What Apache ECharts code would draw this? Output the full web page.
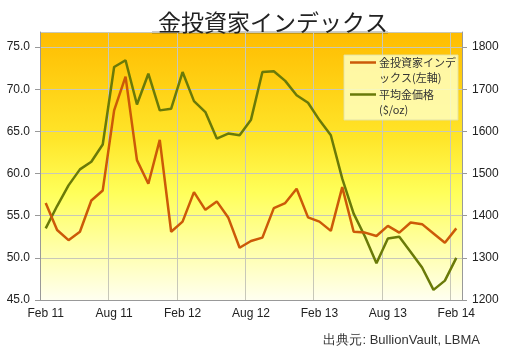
<!DOCTYPE html>
<html><head><meta charset="utf-8">
<script src="https://cdn.jsdelivr.net/npm/echarts@6/dist/echarts.min.js"></script>
<style>html,body{margin:0;padding:0;background:#fff}#c{width:507px;height:356px}</style>
</head><body><div id="c"></div>
<script>
const months = ['Feb 11','Mar 11','Apr 11','May 11','Jun 11','Jul 11','Aug 11','Sep 11','Oct 11','Nov 11','Dec 11','Jan 12',
  'Feb 12','Mar 12','Apr 12','May 12','Jun 12','Jul 12','Aug 12','Sep 12','Oct 12','Nov 12','Dec 12','Jan 13',
  'Feb 13','Mar 13','Apr 13','May 13','Jun 13','Jul 13','Aug 13','Sep 13','Oct 13','Nov 13','Dec 13','Jan 14','Feb 14'];
const investorIndex = [56.5,53.3,52.1,53.1,56.8,58.0,67.5,71.5,61.6,58.8,64.0,53.1,
  54.3,57.8,55.7,56.7,54.8,51.2,52.0,52.4,55.9,56.5,58.2,54.8,
  54.3,53.2,58.4,53.1,53.0,52.6,53.8,53.0,54.2,54.0,52.9,51.8,53.5];
const goldPrice = [1370,1423,1472,1510,1528,1569,1753,1769,1664,1737,1650,1654,
  1741,1672,1646,1583,1595,1591,1628,1741,1743,1720,1686,1668,
  1627,1591,1488,1405,1350,1287,1346,1350,1314,1277,1224,1246,1300];
const seriesNames = ['金投資家インデックス(左軸)','平均金価格($/oz)'];
const legendLabels = {'金投資家インデックス(左軸)':'金投資家インデ\nックス(左軸)','平均金価格($/oz)':'平均金価格\n($/oz)'};
const titleText = '金投資家インデックス';
const sourceText = '出典元: BullionVault, LBMA';

const chart = echarts.init(document.getElementById('c'));
const font = 'Liberation Sans, Arial, sans-serif';
const iconPath = 'path://M0 0H0.1V0.1H0Z M0 6.3H26V8.8H0Z M0 29.9H0.1V30H0Z';
chart.setOption({
  animation:false,
  title:[
    {text:titleText,left:153,top:6,textStyle:{fontFamily:'Noto Sans CJK JP',fontSize:23,fontWeight:'normal',color:'#222'}},
    {text:sourceText,right:22,top:329,textStyle:{fontFamily:font,fontSize:13,fontWeight:'normal',color:'#333'}}
  ],
  graphic:[{type:'line',shape:{x1:152,y1:32.5,x2:388,y2:32.5},style:{stroke:'#333',lineWidth:1.5}}],
  grid:{left:40,right:45,top:32,bottom:56,show:true,borderWidth:0,
    backgroundColor:{type:'linear',x:0,y:0,x2:0,y2:1,colorStops:[
      {offset:0,color:'#FFBC00'},{offset:0.4,color:'#FFE62A'},{offset:0.6,color:'#FFFF5A'},{offset:1,color:'#FFFFF0'}]}},
  legend:{
    left:344,top:55,orient:'vertical',itemGap:2,padding:[0,2,3,6],
    backgroundColor:'rgba(255,255,190,0.85)',borderColor:'rgba(225,225,170,0.9)',borderWidth:1,
    icon:iconPath,itemWidth:26,itemHeight:30,
    textStyle:{fontFamily:'Noto Sans CJK JP, Liberation Sans',fontSize:11,lineHeight:15,color:'#333',padding:[0,0,0,-2]},
    formatter:n=>legendLabels[n]||n
  },
  xAxis:{type:'category',data:months,boundaryGap:true,
    axisLine:{lineStyle:{color:'#999'}},
    axisTick:{interval:5,length:4,lineStyle:{color:'#999'}},
    axisLabel:{interval:5,margin:8,fontFamily:font,fontSize:12,color:'#222'},
    splitLine:{show:true,interval:5,lineStyle:{color:'#C8C8B8'}}},
  yAxis:[
    {type:'value',min:45,max:76.8,interval:5,
      axisLine:{show:true,lineStyle:{color:'#999'}},axisTick:{show:true,length:5,lineStyle:{color:'#999'}},
      axisLabel:{showMaxLabel:false,margin:10,fontFamily:font,fontSize:12,color:'#222',formatter:v=>v.toFixed(1)},
      splitLine:{show:true,lineStyle:{color:'#C8C8B8'}}},
    {type:'value',min:1200,max:1836,interval:100,
      axisLine:{show:true,lineStyle:{color:'#999'}},axisTick:{show:true,length:5,lineStyle:{color:'#999'}},
      axisLabel:{showMaxLabel:false,margin:10,fontFamily:font,fontSize:12,color:'#222',formatter:v=>String(v)},
      splitLine:{show:false}}
  ],
  series:[
    {name:seriesNames[0],type:'line',yAxisIndex:0,data:investorIndex,symbol:'none',z:3,
      lineStyle:{color:'#CC5A08',width:2.5},itemStyle:{color:'#CC5A08'}},
    {name:seriesNames[1],type:'line',yAxisIndex:1,data:goldPrice,symbol:'none',z:2,
      lineStyle:{color:'#6A7A08',width:2.5},itemStyle:{color:'#6A7A08'}}
  ]
});
</script></body></html>
